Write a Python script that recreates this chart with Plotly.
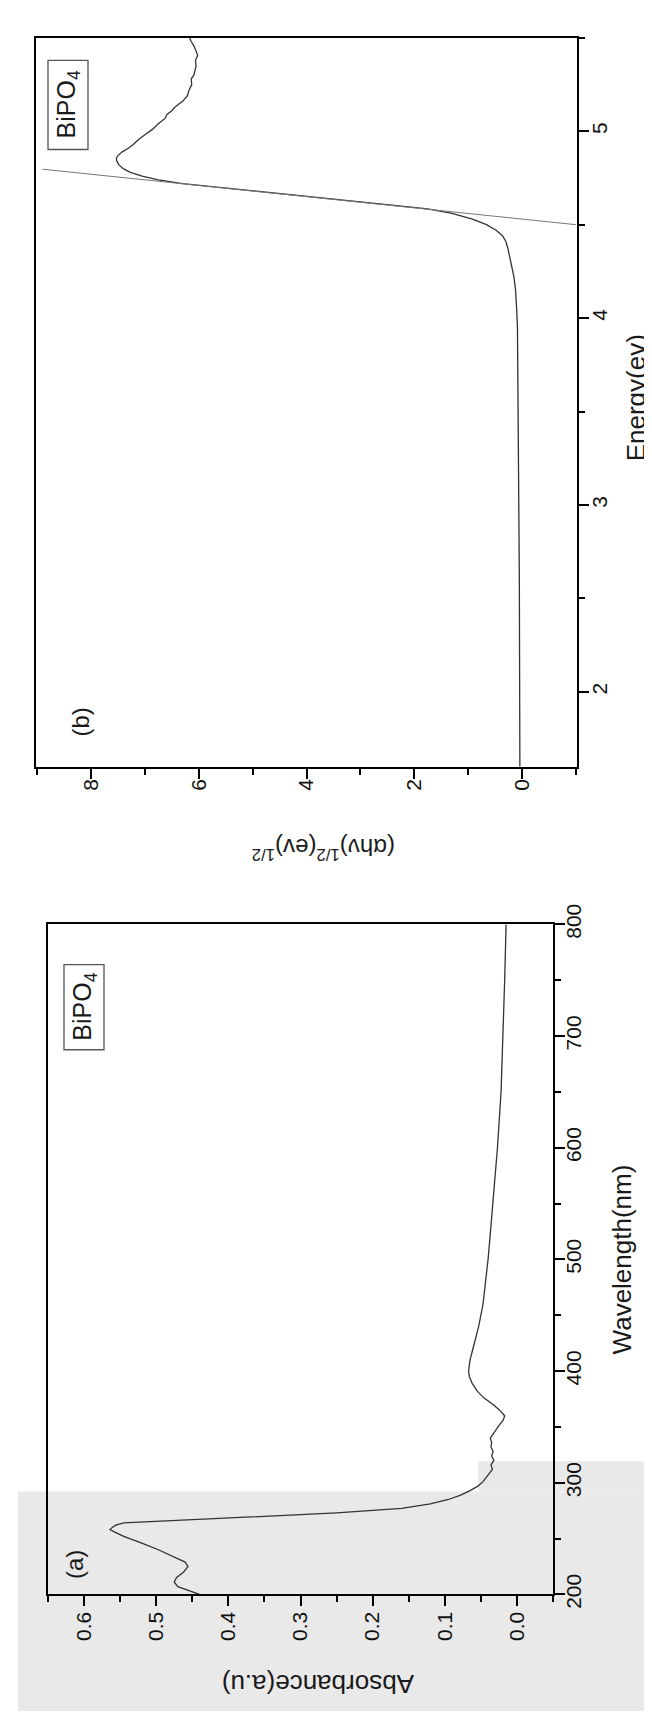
import plotly.graph_objects as go

W, H = 652, 1717

# panel (a): UV-vis absorbance
wavelength_nm = [200, 203, 207, 211, 215, 220, 225, 229, 234, 240, 246, 252, 256, 258, 260,
                 262, 264, 267, 270, 273, 277, 281, 285, 289, 293, 297, 301, 305, 309, 312,
                 316, 320, 324, 328, 332, 336, 340, 344, 348, 352, 356, 360, 365, 370, 376,
                 382, 389, 395, 400, 410, 420, 440, 460, 480, 500, 530, 560, 600, 650, 700,
                 750, 800]
absorbance = [0.440, 0.452, 0.470, 0.475, 0.472, 0.462, 0.456, 0.460, 0.476, 0.497, 0.520,
              0.545, 0.558, 0.564, 0.561, 0.556, 0.545, 0.450, 0.350, 0.250, 0.160, 0.120,
              0.095, 0.078, 0.065, 0.054, 0.047, 0.042, 0.037, 0.034, 0.036, 0.032, 0.035,
              0.033, 0.036, 0.035, 0.037, 0.033, 0.028, 0.024, 0.019, 0.017, 0.024, 0.033,
              0.046, 0.055, 0.062, 0.066, 0.067, 0.065, 0.061, 0.053, 0.047, 0.043, 0.040,
              0.036, 0.032, 0.027, 0.022, 0.019, 0.017, 0.015]

# panel (b): Tauc plot
energy_ev = [1.60, 1.80, 2.00, 2.20, 2.40, 2.60, 2.80, 3.00, 3.20, 3.40, 3.60, 3.80, 3.95,
             4.05, 4.15, 4.22, 4.28, 4.33, 4.37, 4.41, 4.44, 4.47, 4.50, 4.53, 4.56, 4.585,
             4.61, 4.64, 4.67, 4.70, 4.72, 4.74, 4.76, 4.78, 4.80, 4.82, 4.84, 4.855, 4.87,
             4.89, 4.91, 4.93, 4.96, 4.985, 5.01, 5.04, 5.07, 5.09, 5.11, 5.13, 5.16, 5.19,
             5.22, 5.25, 5.28, 5.30, 5.33, 5.35, 5.38, 5.405, 5.43, 5.457, 5.48, 5.50]
tauc_value = [0.04, 0.04, 0.045, 0.045, 0.05, 0.05, 0.055, 0.06, 0.06, 0.065, 0.07, 0.075,
              0.085, 0.10, 0.12, 0.15, 0.19, 0.23, 0.26, 0.30, 0.36, 0.48, 0.66, 0.92, 1.30,
              1.75, 2.60, 3.60, 4.65, 5.65, 6.30, 6.75, 7.05, 7.27, 7.40, 7.48, 7.52, 7.53,
              7.50, 7.42, 7.30, 7.21, 7.10, 6.98, 6.86, 6.75, 6.62, 6.59, 6.50, 6.44, 6.30,
              6.21, 6.18, 6.13, 6.14, 6.09, 6.07, 6.05, 6.06, 6.02, 6.05, 6.09, 6.14, 6.17]

# linear fit (band-gap extrapolation)
fit_energy = [4.50, 4.797]
fit_value = [-1.0, 8.9]

FONT = "Liberation Sans, Arial, sans-serif"


def px(x):
    return x / W


def py(y):
    return 1 - y / H


fig = go.Figure()
fig.add_trace(go.Scatter(x=absorbance, y=wavelength_nm, mode="lines",
                         line=dict(color="#333333", width=1.3),
                         xaxis="x", yaxis="y", showlegend=False))
fig.add_trace(go.Scatter(x=tauc_value, y=energy_ev, mode="lines",
                         line=dict(color="#333333", width=1.3),
                         xaxis="x2", yaxis="y2", showlegend=False))
fig.add_trace(go.Scatter(x=fit_value, y=fit_energy, mode="lines",
                         line=dict(color="#777777", width=1),
                         xaxis="x2", yaxis="y2", showlegend=False))

axis_common = dict(showline=True, mirror=True, linecolor="black", linewidth=1.8,
                   ticks="outside", ticklen=10, tickwidth=1.6, tickcolor="black",
                   showgrid=False, zeroline=False, tickangle=-90,
                   tickfont=dict(family=FONT, size=21, color="#111"))
minor_common = dict(ticks="outside", ticklen=6, tickwidth=1.6, tick0=0, tickcolor="black")

fig.update_layout(
    width=W, height=H,
    margin=dict(l=0, r=0, t=0, b=0),
    paper_bgcolor="white",
    plot_bgcolor="rgba(0,0,0,0)",
    font=dict(family=FONT),
    xaxis=dict(axis_common, domain=[px(40), px(545)], range=[0.65, -0.05],
               tick0=0, dtick=0.1, tickformat=".1f", anchor="y",
               ticklabelstandoff=-3, minor=dict(minor_common, dtick=0.05)),
    yaxis=dict(axis_common, domain=[py(1598), py(914)], range=[200, 800],
               tick0=0, dtick=100, side="right", anchor="x",
               ticklabelstandoff=-9, minor=dict(minor_common, dtick=50)),
    xaxis2=dict(axis_common, domain=[px(28), px(569)], range=[9.02, -1.02],
                tick0=0, dtick=2, anchor="y2",
                ticklabelstandoff=-8, minor=dict(minor_common, dtick=1)),
    yaxis2=dict(axis_common, domain=[py(753), py(9)], range=[1.6, 5.5],
                tick0=0, dtick=1, side="right", anchor="x2",
                ticklabelstandoff=-7, minor=dict(minor_common, dtick=0.5)),
)

# scanned-page grey band at the bottom
fig.add_shape(type="rect", xref="paper", yref="paper", layer="below",
              x0=px(10), x1=1, y0=0, y1=py(1493),
              fillcolor="#e9e9e9", line=dict(width=0))
fig.add_shape(type="rect", xref="paper", yref="paper", layer="below",
              x0=px(470), x1=1, y0=py(1493), y1=py(1462),
              fillcolor="#e9e9e9", line=dict(width=0))

# label boxes
fig.add_shape(type="rect", xref="paper", yref="paper",
              x0=px(40), x1=px(80), y0=py(123), y1=py(32),
              line=dict(color="#555", width=1.3))
fig.add_shape(type="rect", xref="paper", yref="paper",
              x0=px(56), x1=px(96), y0=py(1042), y1=py(955),
              line=dict(color="#555", width=1.3))


def note(text, x, y, angle, size):
    fig.add_annotation(text=text, x=px(x), y=py(y), xref="paper", yref="paper",
                       showarrow=False, textangle=angle,
                       font=dict(family=FONT, size=size, color="#1a1a1a"),
                       xanchor="center", yanchor="middle")


note("BiPO<sub>4</sub>", 60, 77, -90, 25)
note("BiPO<sub>4</sub>", 76, 998, -90, 25)
note("(b)", 73, 708, -90, 24)
note("(a)", 66, 1568, -90, 24)
note("Energy(ev)", 628, 377, -90, 26)
note("Wavelength(nm)", 614, 1256, -90, 26)
note("Absorbance(a.u)", 310, 1690, 180, 26)
note("(αhν)<sup>1/2</sup>(ev)<sup>1/2</sup>", 316, 837, 180, 24)

fig.write_html("out.html")
